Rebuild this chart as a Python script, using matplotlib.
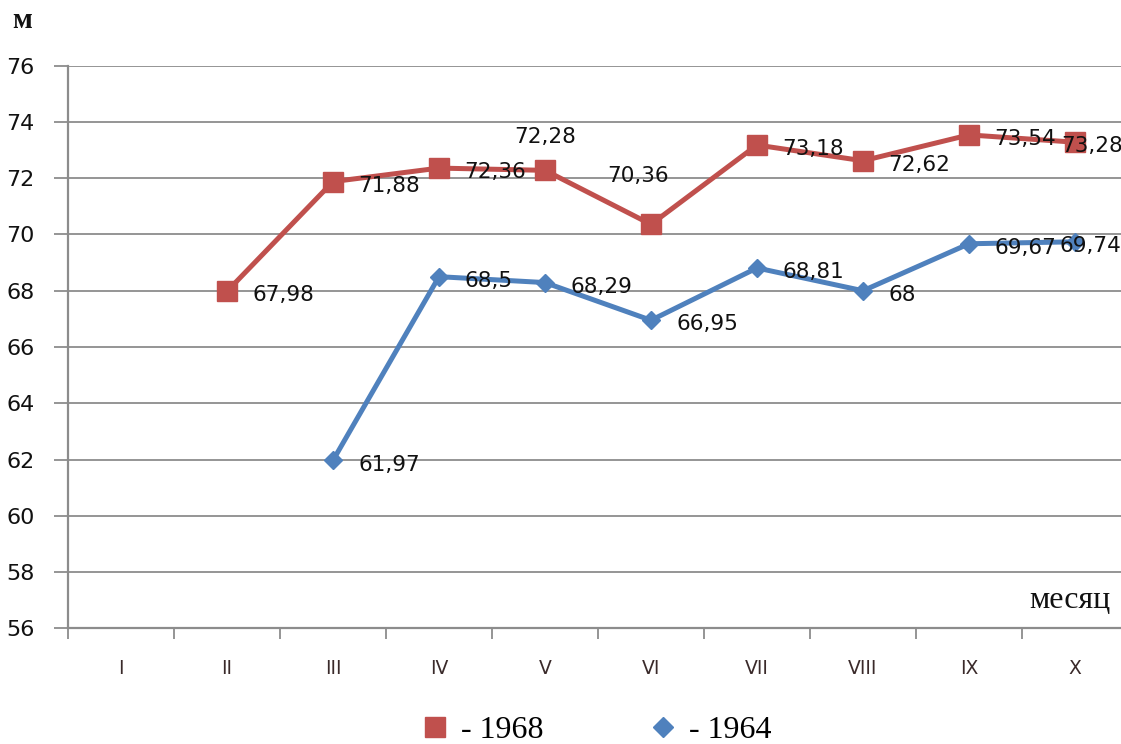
import matplotlib
matplotlib.use('Agg')
import matplotlib.pyplot as plt
from matplotlib.lines import Line2D

months = ['I', 'II', 'III', 'IV', 'V', 'VI', 'VII', 'VIII', 'IX', 'X']

# None = no measurement for that month
level_1968 = [None, 67.98, 71.88, 72.36, 72.28, 70.36, 73.18, 72.62, 73.54, 73.28]
level_1964 = [None, None, 61.97, 68.5, 68.29, 66.95, 68.81, 68, 69.67, 69.74]

RED = '#C0504D'
BLUE = '#4F81BD'
GRID = '#8C8C8C'

# label offsets (points) that differ from the default "right of point"
special_1968 = {4: (0, 24, 'center'), 5: (-9, 35, 'center'), 9: (-10, -3, 'left')}
special_1964 = {9: (-11, -3, 'left')}


def fmt(v):
    return f"{v:g}".replace('.', ',')


def draw_series(ax, values, color, marker, ms, special):
    xs = [i for i, v in enumerate(values) if v is not None]
    ys = [v for v in values if v is not None]
    ax.plot(xs, ys, color=color, lw=3.6, marker=marker, markersize=ms,
            markeredgecolor=color, zorder=3, clip_on=False)
    for x, y in zip(xs, ys):
        dx, dy, ha = special.get(x, (18, -3, 'left'))
        ax.annotate(fmt(y), (x, y), xytext=(dx, dy), textcoords='offset points',
                    ha=ha, va='center', fontsize=15.5, color='#111111',
                    zorder=4, annotation_clip=False)


def main():
    fig = plt.figure(figsize=(11.21, 7.44), dpi=100)
    ax = fig.add_axes([68 / 1121, 1 - 628.3 / 744, 1060 / 1121, (628.3 - 65.7) / 744])

    ax.set_xlim(-0.5, 9.5)
    ax.set_ylim(56, 76)
    ax.set_yticks(range(56, 77, 2))
    ax.grid(axis='y', color=GRID, lw=1.3)
    ax.set_axisbelow(True)

    # ticks between categories, labels at category centres
    ax.set_xticks([i + 0.5 for i in range(-1, 10)])
    ax.set_xticklabels([])
    ax.set_xticks(range(10), minor=True)
    ax.set_xticklabels(months, minor=True)
    ax.tick_params(axis='x', which='major', length=8, width=1.3, color=GRID,
                   direction='out')
    ax.tick_params(axis='x', which='minor', length=0, pad=22, labelsize=13.5,
                   labelcolor='#3a2a2a')
    ax.tick_params(axis='y', length=10, width=1.3, color=GRID, pad=14,
                   labelsize=16, labelcolor='#111111')

    for side in ['top', 'right']:
        ax.spines[side].set_visible(False)
    for side in ['left', 'bottom']:
        ax.spines[side].set_color(GRID)
        ax.spines[side].set_linewidth(1.6)

    draw_series(ax, level_1968, RED, 's', 14, special_1968)
    draw_series(ax, level_1964, BLUE, 'D', 9, special_1964)

    serif = 'Liberation Serif'
    fig.text(12 / 1121, 1 - 20 / 744, 'м', family=serif, fontsize=21,
             fontweight='bold', ha='left', va='center', color='#111111')
    fig.text(1111 / 1121, 1 - 601 / 744, 'месяц', family=serif, fontsize=23,
             ha='right', va='center', color='#111111')

    handles = [
        Line2D([], [], linestyle='none', marker='s', markersize=14,
               color=RED),
        Line2D([], [], linestyle='none', marker='D', markersize=10,
               color=BLUE),
    ]
    fig.legend(handles, ['- 1968', '- 1964'], loc='center',
               bbox_to_anchor=(597 / 1121, 1 - 730 / 744), ncol=2,
               frameon=False, prop={'family': serif, 'size': 23},
               handlelength=0.8, handletextpad=0.42, columnspacing=3.35,
               borderpad=0)

    fig.savefig('out.png', dpi=100)


if __name__ == '__main__':
    main()
